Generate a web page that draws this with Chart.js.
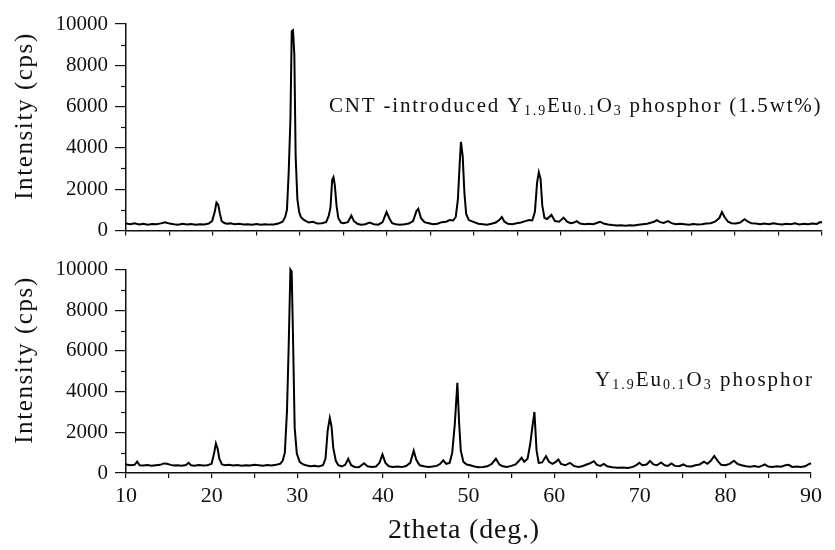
<!DOCTYPE html>
<html>
<head>
<meta charset="utf-8">
<script src="https://cdn.jsdelivr.net/npm/chart.js@4.4.1/dist/chart.umd.min.js"></script>
<style>
  html, body { margin: 0; padding: 0; background: #fff; }
  #wrap { position: relative; width: 835px; height: 550px; }
  #topChart { position: absolute; left: 0; top: 0; }
  #bottomChart { position: absolute; left: 0; top: 250px; }
</style>
</head>
<body>
<div id="wrap">
  <canvas id="topChart" width="835" height="250"></canvas>
  <canvas id="bottomChart" width="835" height="300"></canvas>
</div>
<script>
// --- axis ranges ---
const xRange = [10, 90];
const yRange = [0, 10000];
const yMajorStep = 2000;
const yMinorTicks = [1000, 3000, 5000, 7000, 9000];
const xTickStep = 5;

// --- CNT-introduced Y1.9Eu0.1O3 (upper panel) ---
const topAngles = [
  10.0, 10.5, 11.0, 11.5, 12.0, 12.5, 13.0, 13.5, 14.0, 14.5, 15.0, 15.5, 16.0, 16.5, 17.0, 17.5, 18.0, 18.5, 19.0, 19.5,
  19.9, 20.2, 20.4, 20.6, 20.8, 21.0, 21.3, 21.6, 22.0, 22.5, 23.0, 23.5, 24.0, 24.5, 25.0, 25.5, 26.0, 26.5, 27.0, 27.5,
  28.0, 28.3, 28.5, 28.7, 28.9, 29.05, 29.2, 29.35, 29.5, 29.7, 29.9, 30.1, 30.4, 30.7, 31.0, 31.5, 32.0, 32.5, 33.0, 33.3,
  33.5, 33.7, 33.85, 34.0, 34.2, 34.4, 34.7, 35.0, 35.5, 35.9, 36.2, 36.6, 37.0, 37.5, 38.0, 38.5, 39.0, 39.5, 39.95, 40.3,
  40.6, 41.0, 41.5, 42.0, 42.5, 43.0, 43.4, 43.6, 43.9, 44.3, 44.8, 45.3, 45.8, 46.3, 46.8, 47.2, 47.6, 47.9, 48.15, 48.35,
  48.5, 48.7, 48.9, 49.1, 49.4, 49.7, 50.0, 50.5, 51.0, 51.5, 52.0, 52.5, 52.9, 53.2, 53.5, 53.9, 54.4, 54.9, 55.4, 55.9,
  56.3, 56.7, 57.0, 57.25, 57.45, 57.65, 57.85, 58.1, 58.4, 58.9, 59.3, 59.8, 60.3, 60.7, 61.1, 61.5, 61.8, 62.2, 62.7, 63.2,
  63.7, 64.1, 64.5, 64.9, 65.4, 65.9, 66.4, 66.9, 67.4, 67.9, 68.4, 68.9, 69.4, 69.9, 70.4, 70.7, 71.0, 71.4, 71.8, 72.3,
  72.7, 73.2, 73.7, 74.2, 74.7, 75.2, 75.7, 76.2, 76.7, 77.2, 77.7, 78.2, 78.5, 78.8, 79.2, 79.6, 80.1, 80.6, 81.1, 81.5,
  81.9, 82.4, 82.9, 83.4, 83.9, 84.4, 84.9, 85.4, 85.9, 86.4, 86.9, 87.4, 87.9, 88.4, 88.9, 89.4, 89.8, 90.0
];
const topCounts = [
  330, 300, 350, 290, 320, 280, 310, 300, 340, 390, 330, 300, 280, 320, 290, 310, 270, 300, 290, 330,
  450, 900, 1350, 1250, 800, 450, 360, 320, 340, 300, 320, 290, 300, 280, 310, 270, 300, 280, 290, 330,
  420, 650, 1000, 2800, 5400, 9650, 9700, 8500, 3600, 1500, 900, 650, 520, 450, 380, 420, 330, 350, 400, 700,
  1100, 2450, 2580, 2200, 1200, 600, 380, 350, 400, 720, 450, 320, 280, 300, 380, 300, 280, 400, 900, 550,
  350, 300, 280, 300, 330, 450, 950, 1050, 600, 400, 350, 300, 320, 400, 420, 500, 480, 650, 1500, 3200,
  4290, 3600, 1800, 800, 500, 450, 400, 320, 300, 280, 320, 380, 500, 650, 420, 320, 300, 350, 380, 450,
  500, 480, 900, 2300, 2820, 2500, 1200, 600, 550, 750, 450, 420, 620, 420, 350, 380, 450, 330, 300, 320,
  300, 360, 420, 330, 290, 260, 240, 250, 230, 250, 240, 270, 300, 320, 380, 420, 500, 400, 360, 450,
  350, 300, 320, 300, 280, 310, 290, 300, 330, 350, 420, 600, 890, 650, 420, 350, 340, 380, 540, 420,
  340, 330, 300, 330, 300, 350, 310, 290, 320, 300, 340, 290, 320, 300, 330, 310, 400, 380
];

// --- Y1.9Eu0.1O3 (lower panel) ---
const bottomAngles = [
  10.0, 10.5, 11.0, 11.3, 11.6, 12.0, 12.5, 13.0, 13.5, 14.0, 14.4, 14.8, 15.2, 15.6, 16.0, 16.5, 17.0, 17.3, 17.6, 18.0,
  18.5, 19.0, 19.5, 20.0, 20.3, 20.5, 20.7, 20.9, 21.2, 21.6, 22.0, 22.5, 23.0, 23.5, 24.0, 24.5, 25.0, 25.5, 26.0, 26.5,
  27.0, 27.5, 28.0, 28.3, 28.55, 28.8, 29.0, 29.2, 29.35, 29.5, 29.7, 29.95, 30.3, 30.7, 31.0, 31.5, 32.0, 32.5, 33.0, 33.3,
  33.55, 33.8, 34.0, 34.2, 34.5, 34.8, 35.2, 35.6, 35.95, 36.3, 36.7, 37.2, 37.8, 38.2, 38.7, 39.2, 39.6, 39.95, 40.3, 40.7,
  41.2, 41.7, 42.2, 42.7, 43.2, 43.6, 43.9, 44.3, 44.8, 45.3, 45.8, 46.3, 46.7, 47.05, 47.4, 47.8, 48.1, 48.4, 48.7, 48.9,
  49.1, 49.4, 49.8, 50.2, 50.7, 51.2, 51.7, 52.2, 52.7, 53.2, 53.6, 54.0, 54.5, 55.0, 55.5, 55.9, 56.2, 56.5, 56.9, 57.2,
  57.45, 57.7, 57.95, 58.2, 58.6, 59.05, 59.4, 59.8, 60.2, 60.5, 60.8, 61.3, 61.85, 62.3, 62.8, 63.3, 63.8, 64.2, 64.65, 65.0,
  65.4, 65.8, 66.2, 66.8, 67.4, 68.0, 68.6, 69.2, 69.6, 69.95, 70.3, 70.8, 71.2, 71.6, 72.0, 72.5, 72.9, 73.3, 73.7, 74.1,
  74.6, 75.1, 75.5, 76.0, 76.5, 77.0, 77.5, 77.9, 78.3, 78.7, 79.1, 79.5, 80.0, 80.5, 81.0, 81.4, 81.9, 82.4, 82.9, 83.4,
  83.9, 84.3, 84.6, 85.0, 85.5, 86.0, 86.5, 87.0, 87.4, 87.8, 88.3, 88.8, 89.3, 89.7, 90.0
];
const bottomCounts = [
  420, 380, 400, 560, 380, 370, 390, 360, 380, 400, 470, 450, 400, 370, 380, 360, 390, 500, 380, 360,
  390, 370, 380, 450, 1000, 1450, 1200, 700, 420, 380, 400, 370, 390, 360, 380, 370, 400, 380, 360, 390,
  370, 400, 450, 600, 1000, 3030, 6230, 10000, 9900, 6800, 2230, 950, 540, 420, 380, 330, 350, 320, 380, 700,
  2070, 2710, 2300, 1260, 600, 380, 320, 400, 700, 380, 300, 280, 480, 330, 300, 320, 500, 910, 500, 330,
  300, 320, 290, 340, 500, 1100, 650, 380, 330, 300, 320, 350, 450, 620, 450, 500, 1000, 2400, 4440, 2500,
  1100, 550, 420, 380, 320, 280, 300, 330, 450, 700, 420, 330, 300, 350, 420, 600, 750, 550, 700, 1400,
  2230, 3000, 1100, 500, 520, 820, 550, 450, 550, 660, 450, 380, 500, 350, 300, 330, 420, 480, 580, 400,
  350, 450, 330, 280, 260, 270, 250, 300, 380, 500, 380, 420, 590, 420, 380, 520, 380, 350, 470, 350,
  330, 420, 330, 320, 380, 420, 560, 450, 600, 840, 600, 400, 380, 450, 600, 450, 380, 330, 310, 340,
  300, 360, 420, 320, 300, 330, 310, 380, 400, 300, 320, 290, 330, 420, 480
];

const INK = '#111';
const SERIF = '"Liberation Serif", "DejaVu Serif", serif';
Chart.defaults.font.family = SERIF;
Chart.defaults.color = INK;

// --- 文字描画 (下付き文字・軸タイトル) ---
const panelText = {
  id: 'panelText',
  afterDraw(chart, args, opts) {
    const ctx = chart.ctx;
    (opts.items || []).forEach(item => {
      ctx.save();
      ctx.fillStyle = INK;
      ctx.textBaseline = 'alphabetic';
      ctx.textAlign = 'left';
      ctx.letterSpacing = (item.spacing || 0) + 'px';
      const fontFor = p => (p.sub ? item.subSize : item.size) + 'px ' + SERIF;
      let w = 0;
      item.parts.forEach(p => { ctx.font = fontFor(p); w += ctx.measureText(p.t).width; });
      ctx.translate(item.x, item.y);
      if (item.rot) ctx.rotate(item.rot);
      let x = item.center ? -w / 2 : 0;
      item.parts.forEach(p => {
        ctx.font = fontFor(p);
        ctx.fillText(p.t, x, p.sub ? item.subDrop : 0);
        x += ctx.measureText(p.t).width;
      });
      ctx.restore();
    });
  }
};

// 副目盛り (y軸)
const minorTicks = {
  id: 'minorTicks',
  afterDraw(chart) {
    const ctx = chart.ctx;
    const y = chart.scales.y;
    const left = chart.chartArea.left;
    ctx.save();
    ctx.strokeStyle = INK;
    ctx.lineWidth = 1.2;
    yMinorTicks.forEach(v => {
      const py = Math.round(y.getPixelForValue(v)) + 0.5;
      ctx.beginPath();
      ctx.moveTo(left - 5, py);
      ctx.lineTo(left, py);
      ctx.stroke();
    });
    ctx.restore();
  }
};

function makePanel(id, angles, counts, cfg) {
  const data = angles.map((a, i) => ({ x: a, y: counts[i] }));
  return new Chart(document.getElementById(id), {
    type: 'line',
    data: {
      datasets: [{
        data,
        borderColor: '#000',
        borderWidth: 2,
        pointRadius: 0,
        tension: 0,
        fill: false,
        clip: 6
      }]
    },
    options: {
      responsive: false,
      animation: false,
      layout: { padding: cfg.padding },
      plugins: {
        legend: { display: false },
        tooltip: { enabled: false },
        panelText: { items: cfg.texts }
      },
      scales: {
        x: {
          type: 'linear',
          min: xRange[0], max: xRange[1],
          afterFit: s => { s.height = cfg.xHeight; },
          border: { display: true, color: INK, width: 1.5 },
          grid: { drawOnChartArea: false, drawTicks: true, tickLength: 5, color: INK, lineWidth: 1.2 },
          ticks: {
            stepSize: xTickStep,
            autoSkip: false,
            maxRotation: 0,
            padding: 5,
            font: { size: 22 },
            callback: v => (cfg.xLabels && v % 10 === 0) ? String(v) : ''
          }
        },
        y: {
          min: yRange[0], max: yRange[1],
          afterFit: s => { s.width = 126; },
          border: { display: true, color: INK, width: 1.5 },
          grid: { drawOnChartArea: false, drawTicks: true, tickLength: 11, color: INK, lineWidth: 1.2 },
          ticks: { stepSize: yMajorStep, padding: 7, font: { size: 21 }, callback: v => String(v) }
        }
      }
    },
    plugins: [panelText, minorTicks]
  });
}

const yTitle = (cy) => ({
  x: 32, y: cy, rot: -Math.PI / 2, center: true, size: 25, spacing: 1.6,
  parts: [{ t: 'Intensity (cps)' }]
});

makePanel('topChart', topAngles, topCounts, {
  padding: { top: 24, right: 13, bottom: 0, left: 0 },
  xHeight: 18,
  xLabels: false,
  texts: [
    yTitle(116),
    {
      x: 329, y: 112, size: 21, subSize: 14, subDrop: 3, spacing: 1.8,
      parts: [
        { t: 'CNT -introduced Y' }, { t: '1.9', sub: true }, { t: 'Eu' }, { t: '0.1', sub: true },
        { t: 'O' }, { t: '3', sub: true }, { t: ' phosphor (1.5wt%)' }
      ]
    }
  ]
});

makePanel('bottomChart', bottomAngles, bottomCounts, {
  padding: { top: 15, right: 24, bottom: 0, left: 0 },
  xHeight: 77,
  xLabels: true,
  texts: [
    yTitle(110),
    { x: 464, y: 288, center: true, size: 28, spacing: 0.8, parts: [{ t: '2theta (deg.)' }] },
    {
      x: 595, y: 136, size: 21, subSize: 14, subDrop: 3, spacing: 2,
      parts: [
        { t: 'Y' }, { t: '1.9', sub: true }, { t: 'Eu' }, { t: '0.1', sub: true },
        { t: 'O' }, { t: '3', sub: true }, { t: ' phosphor' }
      ]
    }
  ]
});
</script>
</body>
</html>
